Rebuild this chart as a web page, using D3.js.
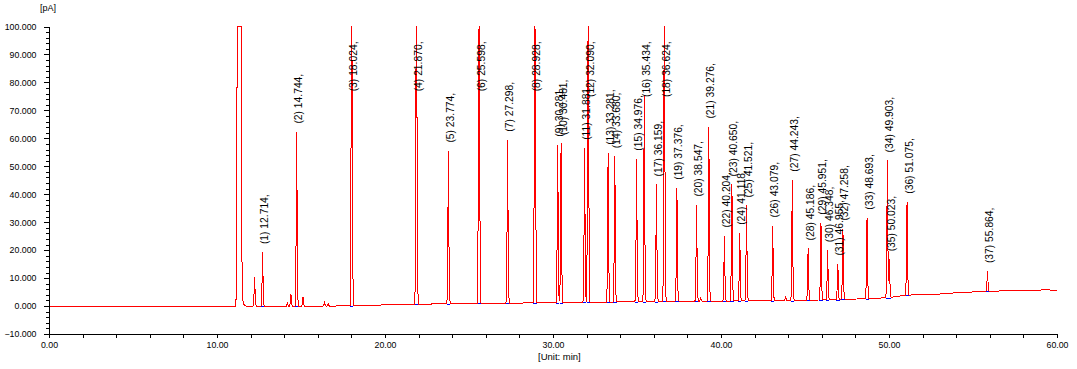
<!DOCTYPE html>
<html><head><meta charset="utf-8">
<script src="https://cdn.jsdelivr.net/npm/d3@7"></script>
<style>body{margin:0;background:#fff}svg{display:block}</style>
</head><body>
<svg id="c" width="1077" height="369"></svg>
<script>
// ---- data ----
const peakNumbers = d3.range(1, 38);
const peakTimes = [12.714, 14.744, 18.024, 21.870, 23.774, 25.598, 27.298, 28.928, 30.281, 30.481,
  31.881, 32.090, 33.281, 33.680, 34.976, 35.434, 36.159, 36.624, 37.376, 38.547,
  39.276, 40.204, 40.650, 41.118, 41.521, 43.079, 44.243, 45.186, 45.951, 46.348,
  46.955, 47.258, 48.693, 49.903, 50.023, 51.075, 55.864];
const peakHeights = [19.3, 62.4, 200, 210, 55.6, 190, 59.5, 205, 57.7, 58.3,
  56.6, 180, 54.8, 53.6, 52.7, 75.0, 43.5, 170, 42.3, 36.3,
  64.2, 25.2, 43.5, 26.2, 36.0, 28.8, 45.2, 20.6, 29.8, 20.0,
  15.2, 27.7, 31.6, 52.1, 16.7, 37.3, 12.5];
const minorPeakTimes = [12.24, 14.19, 14.40, 15.12, 16.40, 16.62, 22.85, 38.79, 43.85];
const minorPeakHeights = [10.4, 1.5, 4.2, 3.2, 1.2, 0.8, 0.9, 3.2, 3.4];
const solventTimes = [11.13, 11.15, 11.17, 11.20, 11.33, 11.45, 11.48, 11.50, 11.53, 11.57, 11.65, 11.80];
const solventValues = [0, 21, 21.5, 300, 420, 300, 21, 10, 3, 1, 0.3, 0];
const baseTimes = [0, 11.0, 11.8, 14.0, 17.0, 19.6, 23.8, 26.8, 31.7, 35.7, 38.7, 44.6, 47.6, 50.0, 51.0, 52.8, 54.1, 55.6, 57.2, 59.5, 60.0];
const baseValues = [-0.2, -0.2, -0.1, -0.2, 0.0, 0.35, 0.85, 1.0, 1.3, 1.6, 1.7, 2.0, 2.4, 3.0, 3.9, 4.2, 4.8, 5.2, 5.5, 5.8, 5.5];
const xTickValues = [0, 10, 20, 30, 40, 50, 60];
const yTickValues = [-10, 0, 10, 20, 30, 40, 50, 60, 70, 80, 90, 100];

// peak outline template (shape only)
const shapeOffsets = [-0.10, -0.07, -0.04, 0, 0.04, 0.07, 0.11];
const shapeFracs = [0, 0.04, 0.35, 1, 0.30, 0.05, 0];

// ---- scales ----
const svg = d3.select('#c');
const x = d3.scaleLinear().domain([0, 60]).range([49, 1057]);
const y = d3.scaleLinear().domain([-10, 100]).range([334, 26.5]).clamp(true);
const base = d3.scaleLinear().domain(baseTimes).range(baseValues).clamp(true);
const solvent = d3.scaleLinear().domain(solventTimes).range(solventValues).clamp(true);

const allPeaks = peakTimes.map((t, i) => ({t, h: peakHeights[i]}))
  .concat(minorPeakTimes.map((t, i) => ({t, h: minorPeakHeights[i]})));
allPeaks.forEach(p => {
  const amp = p.h - base(p.t);
  p.fn = d3.scaleLinear().domain(shapeOffsets.map(o => p.t + o))
    .range(shapeFracs.map(f => f * amp)).clamp(true);
});

let times = baseTimes.concat(solventTimes);
allPeaks.forEach(p => shapeOffsets.forEach(o => times.push(p.t + o)));
times = Array.from(new Set(times.map(t => +t.toFixed(4)))).sort((a, b) => a - b);
const trace = times.map(t => ({t, v: base(t) + solvent(t) + d3.sum(allPeaks, p => p.fn(t))}));

const font = '"Liberation Sans", Arial, sans-serif';

// ---- trace ----
svg.append('path')
  .datum(trace)
  .attr('fill', 'none').attr('stroke', '#ff0000').attr('stroke-width', 1)
  .attr('shape-rendering', 'crispEdges')
  .attr('d', d3.line().x(d => x(d.t)).y(d => y(d.v)));

// integration baselines (blue)
svg.append('g').selectAll('line').data(peakTimes).join('line')
  .attr('x1', t => x(t - 0.09)).attr('x2', t => x(t + 0.10))
  .attr('y1', t => Math.round(y(base(t))) + 0.5).attr('y2', t => Math.round(y(base(t))) + 0.5)
  .attr('stroke', '#0000ff').attr('stroke-width', 1).attr('shape-rendering', 'crispEdges');

// ---- axes ----
svg.append('g').attr('transform', 'translate(49,0)')
  .call(d3.axisLeft(y).tickValues(yTickValues).tickFormat(d3.format('.3f')).tickSize(5).tickSizeOuter(0).tickPadding(7.5));
svg.append('g').attr('transform', 'translate(49,0)')
  .call(d3.axisLeft(y).tickValues(d3.range(-10, 100.1, 2).filter(v => v % 10 !== 0)).tickFormat('').tickSize(3).tickSizeOuter(0))
  .select('.domain').remove();
svg.append('g').attr('transform', 'translate(0,334)')
  .call(d3.axisBottom(x).tickValues(xTickValues).tickFormat(d3.format('.2f')).tickSize(4).tickSizeOuter(0).tickPadding(3.5));
svg.append('g').attr('transform', 'translate(0,334)')
  .call(d3.axisBottom(x).tickValues(d3.range(0, 60.1, 2).filter(v => v % 10 !== 0)).tickFormat('').tickSize(4).tickSizeOuter(0))
  .select('.domain').remove();
svg.selectAll('.tick text').attr('font-family', font).attr('font-size', '8.8px').attr('fill', '#000');
svg.selectAll('.domain, .tick line').attr('stroke', '#000').attr('shape-rendering', 'crispEdges');

svg.append('text').attr('x', 40).attr('y', 11).text('[pA]')
  .attr('font-family', font).attr('font-size', '9px').attr('fill', '#000');
svg.append('text').attr('x', 538).attr('y', 360).text('[Unit: min]')
  .attr('font-family', font).attr('font-size', '9.5px').attr('fill', '#000');

// ---- peak labels ----
const labels = svg.append('g').selectAll('text').data(peakTimes).join('text')
  .attr('font-family', font).attr('font-size', '10.3px').attr('fill', '#000')
  .text((t, i) => `(${peakNumbers[i]}) ${t.toFixed(3)},`);
labels.each(function (t, i) {
  const len = this.getComputedTextLength();
  let bottom = y(peakHeights[i]) - 8;
  if (bottom - len < 41.5) bottom = 41.5 + len;
  d3.select(this).attr('transform', `translate(${x(t) + 5.5},${bottom}) rotate(-90)`);
});
</script>
</body></html>
